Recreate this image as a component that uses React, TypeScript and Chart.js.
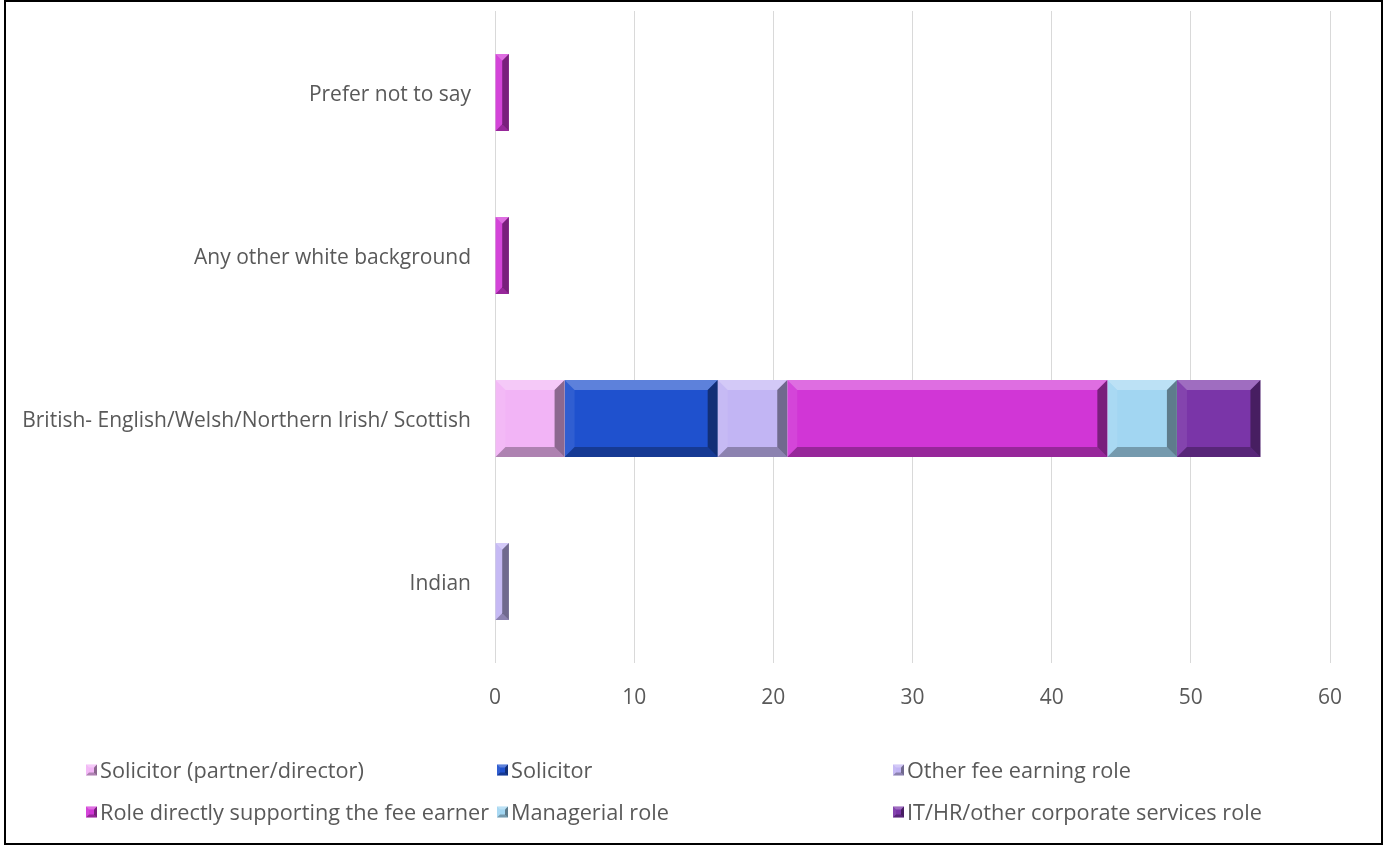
import React, { useEffect, useRef } from "react";
import { Chart, registerables } from "chart.js";

Chart.register(...registerables);

const categories = [
  "Prefer not to say",
  "Any other white background",
  "British- English/Welsh/Northern Irish/ Scottish",
  "Indian",
];

const seriesNames = [
  "Solicitor (partner/director)",
  "Solicitor",
  "Other fee earning role",
  "Role directly supporting the fee earner",
  "Managerial role",
  "IT/HR/other corporate services role",
];

const solicitorPartner = [null, null, 5, null];
const solicitor = [null, null, 11, null];
const otherFeeEarning = [null, null, 5, 1];
const roleSupporting = [1, 1, 23, null];
const managerial = [null, null, 5, null];
const itHr = [null, null, 6, null];

const seriesColors = ["#F2B4F6", "#1F51CE", "#C2B5F4", "#D136D6", "#A2D6F2", "#7A35A8"];

const xTicks = [0, 10, 20, 30, 40, 50, 60];

const FONT = "'Open Sans', sans-serif";
const TEXT = "#595959";

function bevel(ctx: CanvasRenderingContext2D, l: number, t: number, r: number, b: number, size: number) {
  const w = r - l;
  const h = b - t;
  if (w <= 0 || h <= 0) return;
  const s = Math.min(size, w / 2, h / 2);
  const poly = (pts: number[][], fill: string) => {
    ctx.beginPath();
    ctx.moveTo(pts[0][0], pts[0][1]);
    for (let i = 1; i < pts.length; i++) ctx.lineTo(pts[i][0], pts[i][1]);
    ctx.closePath();
    ctx.fillStyle = fill;
    ctx.fill();
  };
  poly([[l, t], [r, t], [r - s, t + s], [l + s, t + s]], "rgba(255,255,255,0.28)");
  poly([[l, t], [l + s, t + s], [l + s, b - s], [l, b]], "rgba(255,255,255,0.08)");
  poly([[l, b], [l + s, b - s], [r - s, b - s], [r, b]], "rgba(0,0,0,0.28)");
  poly([[r, t], [r, b], [r - s, b - s], [r - s, t + s]], "rgba(0,0,0,0.42)");
}

const bevelPlugin = {
  id: "bevelBars",
  afterDatasetsDraw(chart: any) {
    const ctx = chart.ctx as CanvasRenderingContext2D;
    ctx.save();
    chart.data.datasets.forEach((ds: any, i: number) => {
      const meta = chart.getDatasetMeta(i);
      meta.data.forEach((el: any, j: number) => {
        const v = ds.data[j];
        if (v === null || v === undefined || v === 0) return;
        const p = el.getProps(["x", "y", "base", "height"], true);
        const l = Math.min(p.base, p.x);
        const r = Math.max(p.base, p.x);
        const t = p.y - p.height / 2;
        const b = p.y + p.height / 2;
        bevel(ctx, l, t, r, b, 10);
      });
    });
    ctx.restore();
  },
};

const legendPlugin = {
  id: "gridLegend",
  afterDraw(chart: any) {
    const ctx = chart.ctx as CanvasRenderingContext2D;
    const colX = [86, 497, 893];
    const rowY = [770, 812];
    ctx.save();
    ctx.font = `21.7px ${FONT}`;
    ctx.textBaseline = "middle";
    ctx.textAlign = "left";
    chart.data.datasets.forEach((ds: any, i: number) => {
      const x = colX[i % 3];
      const y = rowY[Math.floor(i / 3)];
      ctx.fillStyle = ds.backgroundColor;
      ctx.fillRect(x, y - 5.5, 11, 11);
      bevel(ctx, x, y - 5.5, x + 11, y + 5.5, 3);
      ctx.fillStyle = TEXT;
      ctx.fillText(ds.label, x + 14, y + 2);
    });
    ctx.restore();
  },
};

export default function App() {
  const canvasRef = useRef<HTMLCanvasElement | null>(null);

  useEffect(() => {
    document.body.style.margin = "0";
    const canvas = canvasRef.current;
    if (!canvas) return;
    const seriesData = [solicitorPartner, solicitor, otherFeeEarning, roleSupporting, managerial, itHr];
    const chart = new Chart(canvas, {
      type: "bar",
      data: {
        labels: categories,
        datasets: seriesNames.map((name, i) => ({
          label: name,
          data: seriesData[i] as any,
          backgroundColor: seriesColors[i],
          borderWidth: 0,
          barPercentage: 0.472,
          categoryPercentage: 1,
        })),
      },
      options: {
        indexAxis: "y",
        animation: false,
        responsive: false,
        layout: { padding: { top: 11, right: 53, bottom: 125, left: 0 } },
        plugins: {
          legend: { display: false },
          tooltip: { enabled: false },
        },
        scales: {
          x: {
            stacked: true,
            min: 0,
            max: 60,
            afterBuildTicks: (scale: any) => {
              scale.ticks = xTicks.map((v) => ({ value: v }));
            },
            afterFit: (scale: any) => {
              scale.height = 845 - 125 - 663;
              scale.paddingLeft = 0;
              scale.paddingRight = 0;
            },
            grid: { color: "#D9D9D9", drawTicks: false, lineWidth: 1 },
            border: { display: false },
            ticks: { color: TEXT, font: { family: FONT, size: 21 }, padding: 22 },
          },
          y: {
            stacked: true,
            afterFit: (scale: any) => {
              scale.width = 495;
              scale.paddingTop = 0;
              scale.paddingBottom = 0;
            },
            grid: { display: false, drawTicks: false },
            border: { display: false },
            ticks: { color: TEXT, font: { family: FONT, size: 21 }, padding: 24, labelOffset: 3 },
          },
        },
      },
      plugins: [bevelPlugin, legendPlugin],
    });
    return () => chart.destroy();
  }, []);

  return (
    <div style={{ position: "relative", width: 1383, height: 845 }}>
      <canvas ref={canvasRef} width={1383} height={845} style={{ position: "absolute", left: 0, top: 0 }} />
      <div
        style={{
          position: "absolute",
          left: 4,
          top: 0,
          width: 1379,
          height: 845,
          boxSizing: "border-box",
          border: "2px solid #000",
          pointerEvents: "none",
        }}
      />
    </div>
  );
}
